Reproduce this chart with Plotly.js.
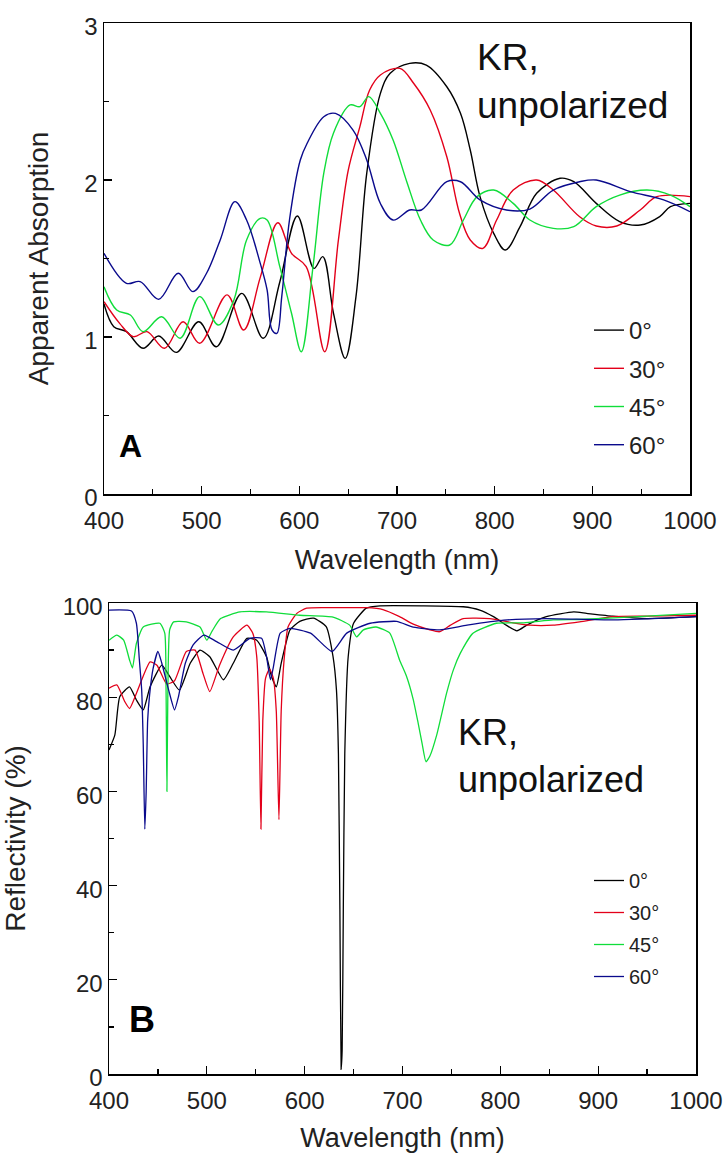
<!DOCTYPE html>
<html>
<head>
<meta charset="utf-8">
<script src="https://cdn.plot.ly/plotly-3.0.1.min.js"></script>
<style>
  html, body { margin: 0; padding: 0; background: #fff; }
  #plot { width: 726px; height: 1165px; }
</style>
</head>
<body>
<div id="plot"></div>
<script>
// Panel A: apparent absorption
var absWl0 = [400, 410, 423, 440, 456, 474, 497, 515, 541, 563, 580, 598, 615, 624, 635, 647, 658, 669, 683, 693, 713, 730, 751, 765, 775, 785, 799, 811, 826, 843, 867, 881, 904, 928, 949, 969, 980, 1000];
var absVal0 = [1.21, 1.066, 1.034, 0.928, 1.006, 0.902, 1.097, 0.938, 1.278, 0.992, 1.35, 1.771, 1.437, 1.512, 1.15, 0.864, 1.257, 2.042, 2.552, 2.68, 2.743, 2.732, 2.594, 2.425, 2.191, 1.894, 1.66, 1.554, 1.703, 1.915, 2.011, 1.989, 1.851, 1.735, 1.713, 1.767, 1.83, 1.851];

var absWl30 = [400, 416, 430, 444, 462, 481, 498, 526, 543, 560, 578, 592, 607, 626, 640, 650, 662, 672, 683, 703, 717, 734, 751, 764, 775, 788, 802, 819, 843, 860, 887, 904, 925, 949, 966, 1000];
var absVal30 = [1.225, 1.087, 1.002, 1.034, 0.928, 1.097, 0.96, 1.268, 1.045, 1.38, 1.728, 1.533, 1.448, 0.906, 1.618, 2.06, 2.34, 2.573, 2.669, 2.711, 2.616, 2.446, 2.148, 1.788, 1.618, 1.565, 1.745, 1.936, 2.0, 1.936, 1.766, 1.707, 1.707, 1.809, 1.894, 1.894];

var absWl45 = [400, 413, 427, 440, 459, 478, 498, 517, 533, 546, 560, 567, 580, 592, 602, 614, 625, 635, 652, 662, 671, 683, 696, 710, 724, 737, 754, 768, 782, 799, 819, 836, 860, 881, 904, 928, 956, 980, 1000];
var absVal45 = [1.32, 1.172, 1.14, 1.034, 1.129, 0.992, 1.257, 1.076, 1.236, 1.618, 1.756, 1.745, 1.448, 1.151, 0.906, 1.448, 2.042, 2.3, 2.478, 2.467, 2.531, 2.425, 2.255, 1.989, 1.745, 1.618, 1.586, 1.745, 1.894, 1.936, 1.851, 1.745, 1.692, 1.703, 1.83, 1.904, 1.936, 1.904, 1.83];

var absWl60 = [400, 423, 437, 456, 476, 491, 505, 519, 534, 546, 560, 567, 572, 577, 582, 590, 601, 608, 625, 637, 655, 669, 683, 696, 713, 725, 751, 765, 785, 812, 836, 860, 887, 904, 939, 973, 1000];
var absVal60 = [1.533, 1.342, 1.353, 1.24, 1.406, 1.289, 1.406, 1.618, 1.862, 1.745, 1.469, 1.3, 1.045, 1.023, 1.257, 1.75, 2.127, 2.234, 2.403, 2.424, 2.318, 2.128, 1.85, 1.745, 1.809, 1.809, 1.989, 1.989, 1.873, 1.809, 1.815, 1.936, 1.989, 2.0, 1.926, 1.873, 1.798];

// Panel B: reflectivity (%)
var refWl0 = [400, 406, 411, 421, 428, 435, 442, 454, 462, 472, 483, 493, 503, 517, 527, 541, 551, 561, 566, 571, 576, 585, 595, 609, 622, 629, 632.5, 634.5, 636, 637.3, 638.3, 639.5, 641, 644.5, 650, 663, 677, 720, 762, 779, 793, 806, 817, 827, 847, 875, 888, 915, 950, 1000];
var refVal0 = [68.8, 72.0, 80.1, 82.2, 79.4, 77.3, 82.2, 86.8, 84.4, 81.5, 87.2, 90.0, 88.6, 83.7, 87.2, 92.5, 92.1, 88.6, 84.5, 82.2, 87.2, 94.3, 96.1, 96.8, 95.0, 88.6, 81.5, 68, 35, 1, 5, 35, 68, 88.6, 95.7, 98.9, 99.4, 99.4, 99.2, 98.5, 97.1, 95.3, 94.1, 95.3, 97.1, 98.1, 97.8, 97.2, 96.7, 97.1];

var refWl30 = [400, 408, 416, 421, 428, 442, 449, 459, 467, 479, 488, 496, 503, 513, 527, 541, 547, 551, 553.5, 555.3, 557.2, 560, 564, 568, 571, 573.7, 576, 579, 583, 592, 602, 630, 663, 680, 697, 711, 728, 738, 749, 762, 789, 813, 830, 854, 881, 915, 950, 1000];
var refVal30 = [81.9, 82.6, 79.1, 77.6, 80.8, 87.5, 86.8, 82.8, 83.5, 89.7, 90.0, 85.1, 81.2, 86.8, 92.8, 95.3, 93.6, 88.6, 75, 52, 75, 84, 86, 84, 77, 54, 77, 88, 94.9, 97.8, 98.9, 99.0, 99.0, 98.6, 97.1, 95.5, 94.3, 93.9, 95.3, 96.7, 96.7, 95.8, 95.3, 95.3, 96.0, 97.1, 97.2, 97.4];

var refWl45 = [400, 408, 415, 421, 424, 428, 435, 452, 457, 458.3, 459.2, 460.2, 462, 466, 479, 493, 500, 505, 514, 534, 561, 595, 629, 646, 653, 660, 673, 687, 697, 704, 711, 716, 720, 724, 728, 735, 745, 752, 759, 772, 796, 824, 854, 881, 950, 1000];
var refVal45 = [92.1, 93.2, 92.1, 87.9, 86.2, 91.4, 94.9, 95.7, 93.6, 82, 60, 82, 94.3, 96.0, 96.0, 94.9, 92.1, 93.9, 96.7, 98.1, 98.1, 97.4, 97.0, 95.3, 92.8, 94.3, 94.9, 93.6, 87.9, 84.5, 79.5, 74.5, 70.2, 66.3, 67.5, 72, 80.8, 85.8, 89.3, 93.6, 95.7, 95.8, 96.4, 96.5, 97.2, 97.8];

var refWl60 = [400, 423, 428, 431, 433.4, 435, 436.6, 438, 439.5, 441.5, 445, 450, 454, 461, 467, 471, 478, 486, 497, 510, 527, 544, 556, 561, 565, 568, 575, 585, 606, 628, 643, 667, 694, 711, 738, 766, 807, 847, 916, 1000];
var refVal60 = [98.5, 98.3, 95.7, 88, 81.5, 70, 52, 60, 75, 80.5, 86, 89.7, 87.2, 81.5, 77.3, 80.1, 87.2, 91.1, 93.2, 91.8, 90.0, 92.5, 92.5, 88.6, 83.7, 86.4, 93.6, 94.6, 93.6, 89.7, 93.6, 95.7, 96.1, 94.9, 94.3, 95.3, 96.4, 96.7, 96.4, 97.1];

var angleNames = ['0°', '30°', '45°', '60°'];
var colors = ['#000000', '#e3001a', '#10dd3a', '#0a0a8c'];

var absX = [absWl0, absWl30, absWl45, absWl60];
var absY = [absVal0, absVal30, absVal45, absVal60];
var refX = [refWl0, refWl30, refWl45, refWl60];
var refY = [refVal0, refVal30, refVal45, refVal60];

var FONT = 'Liberation Sans, Arial, sans-serif';
var data = [];

for (var i = 0; i < 4; i++) {
  data.push({
    x: absX[i], y: absY[i], xaxis: 'x', yaxis: 'y',
    type: 'scatter', mode: 'lines', name: angleNames[i],
    line: {color: colors[i], width: 1.4, shape: 'spline', smoothing: 1},
    legend: 'legend', legendgroup: 'a' + i, hoverinfo: 'none'
  });
}
for (var j = 0; j < 4; j++) {
  data.push({
    x: refX[j], y: refY[j], xaxis: 'x2', yaxis: 'y2',
    type: 'scatter', mode: 'lines', name: angleNames[j],
    line: {color: colors[j], width: 1.3, shape: 'spline', smoothing: 0.5},
    legend: 'legend2', legendgroup: 'b' + j, hoverinfo: 'none'
  });
}

function xAxis(dom, anchor, standoff) {
  return {
    domain: dom, anchor: anchor, range: [400, 1000], tick0: 400, dtick: 100,
    ticks: 'inside', ticklen: 8, tickwidth: 1.3, tickcolor: '#000',
    minor: {dtick: 50, ticks: 'inside', ticklen: 5, tickwidth: 1.2, tickcolor: '#000'},
    showline: true, linewidth: 1.5, linecolor: '#000', mirror: true,
    showgrid: false, zeroline: false, ticklabelstandoff: 5,
    tickfont: {family: FONT, size: 24, color: '#222'},
    title: {text: 'Wavelength (nm)', font: {family: FONT, size: 27, color: '#222'}, standoff: standoff}
  };
}
function yAxis(dom, anchor, rng, dt, title, standoff) {
  return {
    domain: dom, anchor: anchor, range: rng, dtick: dt, tick0: 0,
    ticks: 'inside', ticklen: 8, tickwidth: 1.3, tickcolor: '#000',
    minor: {dtick: dt / 2, ticks: 'inside', ticklen: 5, tickwidth: 1.2, tickcolor: '#000'},
    showline: true, linewidth: 1.5, linecolor: '#000', mirror: true,
    showgrid: false, zeroline: false, ticklabelshift: 4,
    tickfont: {family: FONT, size: 24, color: '#222'},
    title: {text: title, font: {family: FONT, size: 28, color: '#222'}, standoff: standoff}
  };
}

var layout = {
  width: 726, height: 1165,
  margin: {l: 0, r: 0, t: 0, b: 0},
  paper_bgcolor: '#fff', plot_bgcolor: '#fff',
  showlegend: true,
  xaxis: xAxis([104 / 726, 690 / 726], 'y', 17),
  yaxis: yAxis([671 / 1165, 1142 / 1165], 'x', [0, 3], 1, 'Apparent Absorption', 27),
  xaxis2: xAxis([109 / 726, 696 / 726], 'y2', 15),
  yaxis2: yAxis([91 / 1165, 562 / 1165], 'x2', [0, 100], 20, 'Reflectivity (%)', 31),
  legend: {
    x: 589 / 726, y: 857 / 1165, xanchor: 'left', yanchor: 'top',
    bgcolor: 'rgba(0,0,0,0)', tracegroupgap: 4,
    font: {family: FONT, size: 24, color: '#222'}
  },
  legend2: {
    x: 589 / 726, y: 304 / 1165, xanchor: 'left', yanchor: 'top',
    bgcolor: 'rgba(0,0,0,0)', tracegroupgap: 3,
    font: {family: FONT, size: 20, color: '#222'}
  },
  annotations: [
    {xref: 'paper', yref: 'paper', x: 475 / 726, y: 1130 / 1165, xanchor: 'left', yanchor: 'top',
     align: 'left', showarrow: false, text: 'KR,<br>unpolarized',
     font: {family: FONT, size: 37, color: '#111'}},
    {xref: 'paper', yref: 'paper', x: 456 / 726, y: 455 / 1165, xanchor: 'left', yanchor: 'top',
     align: 'left', showarrow: false, text: 'KR,<br>unpolarized',
     font: {family: FONT, size: 36, color: '#111'}},
    {xref: 'paper', yref: 'paper', x: 130 / 726, y: 719 / 1165, xanchor: 'center', yanchor: 'middle',
     showarrow: false, text: '<b>A</b>', font: {family: FONT, size: 32, color: '#000'}},
    {xref: 'paper', yref: 'paper', x: 142 / 726, y: 146 / 1165, xanchor: 'center', yanchor: 'middle',
     showarrow: false, text: '<b>B</b>', font: {family: FONT, size: 36, color: '#000'}}
  ]
};

Plotly.newPlot('plot', data, layout, {staticPlot: true});
</script>
</body>
</html>
